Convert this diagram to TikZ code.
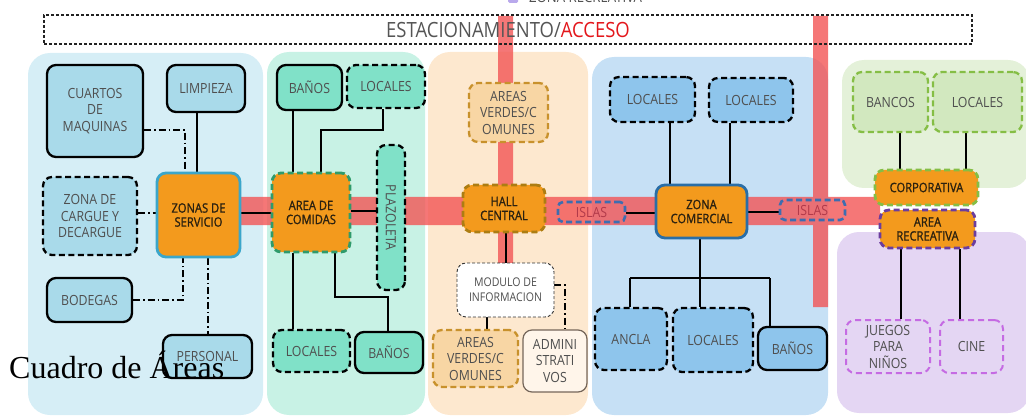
\documentclass[tikz,border=0pt]{standalone}
\usepackage{fontspec}
\setmainfont{Open Sans}[FakeStretch=0.88]
\newfontfamily\obfam{Open Sans}[FakeStretch=0.86,FakeBold=1.2]
\newfontfamily\serfam{Liberation Serif}
\newcommand\bxfont{\fontsize{14pt}{16.5pt}\selectfont}
\newcommand\obfont{\obfam\fontsize{13pt}{14pt}\selectfont}
\newcommand\smfont{\fontsize{12pt}{15pt}\selectfont}
\definecolor{zAbg}{HTML}{D6EEF6}\definecolor{zAb}{HTML}{A9DAEA}
\definecolor{zBbg}{HTML}{C8F2E5}\definecolor{zBb}{HTML}{80E1C8}
\definecolor{zCbg}{HTML}{FDE8CF}\definecolor{zCb}{HTML}{F8D6A4}
\definecolor{zDbg}{HTML}{C6E0F5}\definecolor{zDb}{HTML}{8EC5EC}
\definecolor{zEbg}{HTML}{E4F1D9}\definecolor{zEb}{HTML}{D2E8BF}
\definecolor{zFbg}{HTML}{E4D6F3}
\definecolor{cA}{HTML}{3BA6CA}\definecolor{cB}{HTML}{2F9B6B}
\definecolor{cC}{HTML}{AD7D12}\definecolor{cCg}{HTML}{C8912C}
\definecolor{cD}{HTML}{2A6EA6}\definecolor{cDi}{HTML}{3D6DB0}
\definecolor{cE}{HTML}{85BE45}\definecolor{cF}{HTML}{6B3D9E}
\definecolor{cP}{HTML}{C56BE3}
\definecolor{orng}{HTML}{F39A1D}\definecolor{otxt}{HTML}{2B2110}
\definecolor{txtg}{HTML}{4F4F4F}\definecolor{isltxt}{HTML}{B23A4A}
\definecolor{admb}{HTML}{75665A}\definecolor{admf}{HTML}{FFF5EA}
\definecolor{redbar}{HTML}{F25555}\definecolor{hdr}{HTML}{222222}
\definecolor{hgray}{HTML}{555555}\definecolor{hred}{HTML}{E3161B}
\definecolor{legp}{HTML}{B9A9EC}
\pgfdeclarelayer{zbg}\pgfdeclarelayer{zmid}\pgfsetlayers{zbg,zmid,main}
\begin{document}
\begin{tikzpicture}[x=1pt,y=-1pt,
  sz/.style 2 args={minimum width=#1pt, minimum height=#2pt},
  bx/.style={rounded corners=9pt, align=center, inner sep=1pt, font=\bxfont, text=txtg},
  sol/.style={bx, draw=black, line width=2.3pt},
  dsh/.style={bx, draw=black, line width=2.3pt, dash pattern=on 6pt off 3.5pt},
  dshg/.style={bx, draw=cCg, fill=zCb, line width=2.3pt, dash pattern=on 6pt off 3.5pt},
  dshv/.style={bx, draw=cE, fill=zEb, line width=2.3pt, dash pattern=on 6pt off 3.5pt},
  dshp/.style={bx, draw=cP, line width=2pt, dash pattern=on 6pt off 4pt},
  ob/.style={bx, fill=orng, font=\obfont, text=otxt, line width=2.8pt},
  obd/.style={ob, dash pattern=on 6pt off 3.5pt},
  isl/.style={bx, draw=cDi, line width=2.6pt, dash pattern=on 6pt off 3.5pt, text=isltxt, rounded corners=5pt, inner sep=0pt},
  conn/.style={line width=1.4pt, draw=black},
  dd/.style={conn, dash pattern=on 7pt off 3pt on 1.5pt off 3pt},
  zone/.style={rounded corners=22pt},
]
\useasboundingbox (0,0) rectangle (1026,417);

% zone backgrounds and corridors
\begin{pgfonlayer}{zbg}
\fill[zone, zAbg] (28,53) rectangle (263,415);
\fill[zone, zBbg] (267,52) rectangle (425,415);
\fill[zone, zCbg] (428,52) rectangle (588,415);
\fill[zone, zDbg] (592,57) rectangle (828,415);
\fill[zone, zEbg] (842,60) rectangle (1030,188);
\fill[zone, zFbg] (837,232) rectangle (1030,413);
\fill[redbar, opacity=0.8] (498,16) rectangle (513,263) (813,16) rectangle (828,307) (200,197) rectangle (880,225);
\end{pgfonlayer}

% legend (cut at the top edge)
\node[fill=legp, rounded corners=1.5pt, minimum size=10pt, inner sep=0pt] (legsq) at (513,-2) {};
\node[anchor=base west, text=txtg, font=\fontsize{15pt}{15pt}\selectfont, inner sep=0pt] (legtx) at (529,2.5) {ZONA RECREATIVA};

% header
\node[draw=hdr, line width=2.8pt, dash pattern=on 2.6pt off 2.4pt, sz={928}{29}, inner sep=0pt,
      font=\fontsize{21pt}{21pt}\selectfont] (head) at (508,29.5)
      {\textcolor{hgray}{ESTACIONAMIENTO/}\textcolor{hred}{ACCESO}};

% zone 1
\node[sol, fill=zAb, sz={96}{92}] (cuartos) at (95,111) {CUARTOS\\DE\\MAQUINAS};
\node[sol, fill=zAb, sz={78}{47}] (limp) at (206,88.5) {LIMPIEZA};
\node[dsh, fill=zAb, sz={94}{78}] (cargue) at (90,216) {ZONA DE\\CARGUE Y\\DECARGUE};
\node[ob, draw=cA, sz={83}{84}] (zonas) at (198.5,215) {ZONAS DE\\SERVICIO};
\node[sol, fill=zAb, sz={85}{44}] (bodegas) at (89.5,300) {BODEGAS};
\node[sol, fill=zAb, sz={89}{43}] (personal) at (207.5,356.5) {PERSONAL};

% zone 2
\node[sol, fill=zBb, sz={65}{45}] (ban1) at (309.5,87.5) {BAÑOS};
\node[dsh, fill=zBb, sz={78}{43}] (loc1) at (386,86.5) {LOCALES};
\node[obd, draw=cB, sz={78}{79}] (comidas) at (311,212.5) {AREA DE\\COMIDAS};
\node[dsh, fill=zBb, rotate=-90, sz={145}{28}] (plaz) at (391,217.5) {PLAZOLETA};
\node[dsh, fill=zBb, sz={77}{42}] (loc2) at (311.5,351) {LOCALES};
\node[sol, fill=zBb, sz={68}{41}] (ban2) at (389,352.5) {BAÑOS};

% zone 3
\node[dshg, sz={79}{59}] (ver1) at (508.5,112.5) {AREAS\\VERDES/C\\OMUNES};
\node[obd, draw=cC, sz={82}{47}] (hall) at (504,208.5) {HALL\\CENTRAL};
\node[bx, draw=black!80, fill=white, line width=0.9pt, dash pattern=on 3pt off 2pt, sz={97}{54}, font=\smfont] (modulo) at (505.5,290) {MODULO DE\\INFORMACION};
\node[dshg, sz={85}{57}] (ver2) at (475.5,358.5) {AREAS\\VERDES/C\\OMUNES};
\node[bx, draw=admb, fill=admf, line width=1.2pt, sz={64}{62}] (admin) at (555,361) {ADMINI\\STRATI\\VOS};

% zone 4
\node[isl, sz={67}{20}] (isl1) at (591.5,212) {ISLAS};
\node[ob, draw=cD, sz={91}{53}] (comercial) at (701.5,211.5) {ZONA\\COMERCIAL};
\node[isl, sz={65}{20}] (isl2) at (812.5,210) {ISLAS};
\node[dsh, fill=zDb, sz={85}{45}] (l4a) at (652.5,99.5) {LOCALES};
\node[dsh, fill=zDb, sz={84}{44}] (l4b) at (751,100) {LOCALES};
\node[dsh, fill=zDb, sz={72}{62}] (ancla) at (631,339) {ANCLA};
\node[dsh, fill=zDb, sz={80}{64}] (l4c) at (713,340) {LOCALES};
\node[sol, fill=zDb, sz={69}{43}] (ban4) at (792.5,348.5) {BAÑOS};

% zones 5 and 6
\node[dshv, sz={75}{60}] (bancos) at (890.5,102) {BANCOS};
\node[dshv, sz={89}{60}] (loc5) at (977.5,102) {LOCALES};
\node[obd, draw=cE, sz={103}{35}] (corp) at (926.5,187.5) {CORPORATIVA};
\node[obd, draw=cF, sz={95}{38}] (recrea) at (927.5,229) {AREA\\RECREATIVA};
\node[dshp, sz={84}{53}] (juegos) at (888,346.5) {JUEGOS\\PARA\\NIÑOS};
\node[dshp, sz={63}{53}] (cine) at (971.5,346.5) {CINE};

% connectors
\begin{pgfonlayer}{zmid}
% zone 1
\draw[conn] (197,0 |- limp.south) -- (197,0 |- zonas.north);
\draw[dd] (cuartos.east |- 0,130) -| (185,0 |- zonas.north);
\draw[dd] (cargue.east |- 0,213) -- (zonas.west |- 0,213);
\draw[dd] (bodegas.east) -| (183,0 |- zonas.south);
\draw[dd] (208,0 |- zonas.south) -- (208,0 |- personal.north);
\draw[conn] (zonas.east |- 0,213) -- (comidas.west |- 0,213);
% zone 2
\draw[conn] (293,0 |- ban1.south) -- (293,0 |- comidas.north);
\draw[conn] (383,0 |- loc1.south) -- (383,130) -- (321,130) -- (321,0 |- comidas.north);
\draw[conn] (comidas.east |- 0,211) -- (plaz.south |- 0,211);
\draw[conn] (293,0 |- comidas.south) -- (293,0 |- loc2.north);
\draw[conn] (335,0 |- comidas.south) -- (335,297) -- (388,297) -- (388,0 |- ban2.north);
% zone 3
\draw[conn] (506,0 |- hall.south) -- (506,0 |- modulo.north);
\draw[conn] (487,0 |- modulo.south) -- (487,0 |- ver2.north);
\draw[dd] (modulo.east |- 0,285) -| (565,0 |- admin.north);
% zone 4
\draw[conn] (isl1.east |- 0,213) -- (comercial.west |- 0,213);
\draw[conn] (comercial.east |- 0,212) -- (isl2.west |- 0,212);
\draw[conn] (670,0 |- l4a.south) -- (670,0 |- comercial.north);
\draw[conn] (730,0 |- l4b.south) -- (730,0 |- comercial.north);
\coordinate (jc) at (700,278);
\coordinate (jl) at (630,278);
\coordinate (jr) at (770,278);
\draw[conn] (700,0 |- comercial.south) -- (jc);
\draw[conn] (jl) -- (jr);
\draw[conn] (jl) -- (jl |- ancla.north);
\draw[conn] (jc) -- (jc |- l4c.north);
\draw[conn] (jr) -- (jr |- ban4.north);
% zones 5 and 6
\draw[conn] (900,0 |- bancos.south) -- (900,0 |- corp.north);
\draw[conn] (966,0 |- loc5.south) -- (966,0 |- corp.north);
\draw[conn] (901,0 |- recrea.south) -- (901,0 |- juegos.north);
\draw[conn] (960,0 |- recrea.south) -- (960,0 |- cine.north);
\end{pgfonlayer}

% overlay title
\node[anchor=base west, inner sep=0pt, font=\serfam\fontsize{32pt}{32pt}\selectfont, text=black] (titulo) at (9,378) {Cuadro de Áreas};
\end{tikzpicture}
\end{document}
